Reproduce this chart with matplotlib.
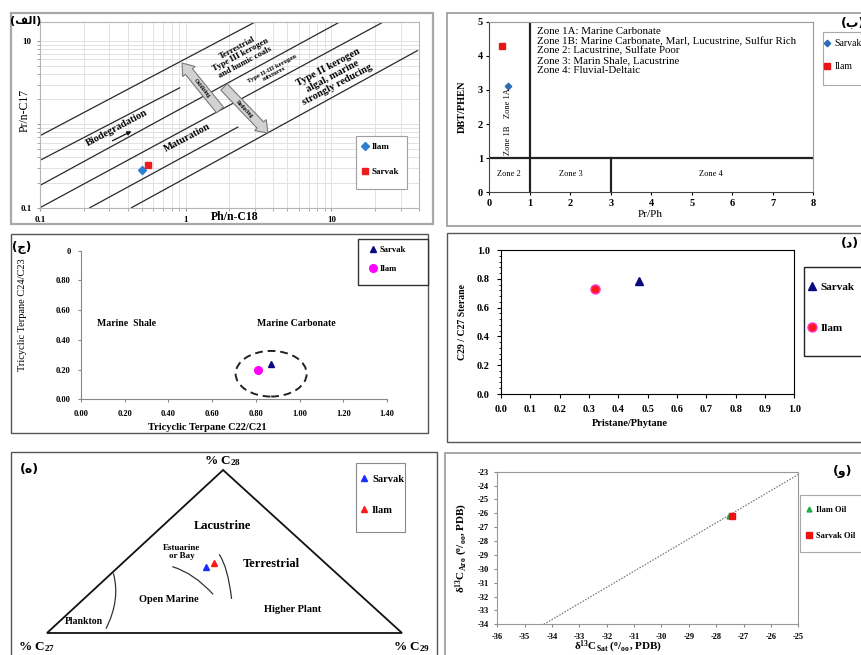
import matplotlib
matplotlib.use('Agg')
import matplotlib.pyplot as plt
from matplotlib.patches import Rectangle, Ellipse, FancyArrow, PathPatch, Polygon
from matplotlib.path import Path
from matplotlib.ticker import NullFormatter, MultipleLocator
import numpy as np

plt.rcParams['font.family'] = ['Liberation Serif', 'DejaVu Sans']
plt.rcParams['mathtext.fontset'] = 'custom'
plt.rcParams['mathtext.rm'] = 'Liberation Serif:bold'
plt.rcParams['mathtext.it'] = 'Liberation Serif:bold'
plt.rcParams['mathtext.bf'] = 'Liberation Serif:bold'
plt.rcParams['axes.unicode_minus'] = False

# ---------------- data ----------------
# (A) Pr/n-C17 vs Ph/n-C18
a_names = ['Ilam', 'Sarvak']
a_ph_nc18 = [0.50, 0.55]
a_pr_nc17 = [0.285, 0.327]
a_bound_x = [[0.1, 2.97], [0.1, 0.91], [0.1, 11.3], [0.1, 22.5], [0.22, 2.28], [0.425, 39.0]]
a_bound_y = [[0.73, 16.7], [0.37, 2.74], [0.185, 16.7], [0.1, 16.7], [0.1, 0.925], [0.1, 7.65]]

# (B) DBT/PHEN vs Pr/Ph
b_names = ['Sarvak', 'Ilam']
b_pr_ph = [0.47, 0.31]
b_dbt_phen = [3.12, 4.30]
b_zone_x = [[1, 1], [0, 8], [3, 3]]
b_zone_y = [[0, 5], [1, 1], [0, 1]]
b_notes = ['Zone 1A: Marine Carbonate',
           'Zone 1B: Marine Carbonate, Marl, Lucustrine, Sulfur Rich',
           'Zone 2: Lacustrine, Sulfate Poor',
           'Zone 3: Marin Shale, Lacustrine',
           'Zone 4: Fluvial-Deltaic']

# (C) Tricyclic terpanes
c_names = ['Sarvak', 'Ilam']
c_c22_c21 = [0.868, 0.808]
c_c24_c23 = [0.238, 0.197]
c_xticks = [0.0, 0.2, 0.4, 0.6, 0.8, 1.0, 1.2, 1.4]
c_xlabels = ['0.00', '0.20', '0.40', '0.60', '0.80', '1.00', '1.20', '1.40']
c_yticks = [0.0, 0.2, 0.4, 0.6, 0.8, 1.0]
c_ylabels = ['0.00', '0.20', '0.40', '0.60', '0.80', '0']

# (D) C29/C27 sterane vs Pr/Ph
d_names = ['Sarvak', 'Ilam']
d_pr_ph = [0.472, 0.321]
d_c29_c27 = [0.785, 0.729]

# (E) ternary steranes (%)
e_names = ['Sarvak', 'Ilam']
e_c27 = [34.6, 31.3]
e_c28 = [40.7, 43.1]
e_c29 = [24.7, 25.6]

# (F) carbon isotopes
f_names = ['Ilam Oil', 'Sarvak Oil']
f_sat = [-27.55, -27.42]
f_aro = [-26.20, -26.17]
f_ref_x = [-34.3, -25.0]
f_ref_y = [-34.0, -23.2]

# ---------------- layout helpers ----------------
W, H = 862, 655
fig = plt.figure(figsize=(W / 100, H / 100), dpi=100)


def px_axes(l, t, r, b, **kw):
    return fig.add_axes([l / W, 1 - b / H, (r - l) / W, (b - t) / H], **kw)


bg = fig.add_axes([0, 0, 1, 1], zorder=-10, label='bg')
bg.set_xlim(0, W); bg.set_ylim(H, 0); bg.axis('off')

SERIF = ['Liberation Serif', 'DejaVu Sans']
AR = ['DejaVu Sans']


def style_ticks(ax, fs, weight='bold'):
    for lab in ax.get_xticklabels() + ax.get_yticklabels():
        lab.set_fontsize(fs)
        lab.set_fontweight(weight)
        lab.set_family(SERIF)


def legend_box(ax, l, t, r, b, ec, lw=0.8):
    rect = Rectangle((l / W, 1 - b / H), (r - l) / W, (b - t) / H, transform=fig.transFigure,
                     fc='white', ec=ec, lw=lw, zorder=4.5, clip_on=False)
    ax.add_patch(rect)


def place_legend(ax, left, first_y, fs, gap, weight='bold'):
    h, l = ax.get_legend_handles_labels()
    fs_px = fs * 100 / 72
    top = first_y - 0.62 * fs_px
    ax.legend(h, l, loc='upper left', bbox_to_anchor=(left / W, 1 - top / H),
              bbox_transform=fig.transFigure, frameon=False, borderpad=0, borderaxespad=0,
              handlelength=0.8, handletextpad=0.35, numpoints=1,
              labelspacing=(gap - 1.2 * fs_px) / fs_px,
              prop={'family': SERIF, 'weight': weight, 'size': fs})


# panel frames
for (l, t, r, b, c, lw) in [(11, 13, 433, 224, '#a8a8a8', 1.6), (447, 13, 866, 226, '#9a9a9a', 1.2),
                            (11, 234, 428, 433, '#555555', 1.0), (447, 233, 866, 442, '#555555', 1.0),
                            (11, 452, 437, 660, '#555555', 1.0), (445, 453, 866, 660, '#9a9a9a', 1.2)]:
    bg.add_patch(Rectangle((l, t), r - l, b - t, fc='white', ec=c, lw=lw))

# ---------------- panel A ----------------
axA = px_axes(40, 21.7, 419, 207.7)
axA.set_xscale('log'); axA.set_yscale('log')
axA.set_xlim(0.1, 40); axA.set_ylim(0.1, 17)
axA.grid(True, which='both', color='#e2e2e2', lw=0.7)
axA.set_axisbelow(True)
for xs, ys in zip(a_bound_x, a_bound_y):
    axA.plot(xs, ys, color='#2a2a2a', lw=0.9)
axA.plot([a_ph_nc18[0]], [a_pr_nc17[0]], 'D', color='#2d7fd0', ms=4, label=a_names[0], ls='none')
axA.plot([a_ph_nc18[1]], [a_pr_nc17[1]], 's', color='#ee1c1c', ms=4.2, label=a_names[1], ls='none')
axA.set_xticks([0.1, 1, 10]); axA.set_xticklabels(['0.1', '1', '10'])
axA.set_yticks([0.1, 1, 10]); axA.set_yticklabels(['0.1', '', '10'])
axA.xaxis.set_minor_formatter(NullFormatter()); axA.yaxis.set_minor_formatter(NullFormatter())
axA.tick_params(which='both', length=2, color='#999999', pad=4)
for s in axA.spines.values():
    s.set_color('#b5b5b5')
style_ticks(axA, 6.5)
legend_box(axA, 356, 136, 407, 189, '#a0a0a0')
place_legend(axA, 361, 148, 6.5, 28)
fig.text(25 / W, 1 - 110 / H, 'Pr/n-C17', rotation=90, ha='center', va='center', fontsize=8.5,
         family=SERIF)
fig.text(235 / W, 1 - 216.5 / H, 'Ph/n-C18', ha='center', va='center', fontsize=8.5,
         weight='bold', family=SERIF)

# ---------------- panel B ----------------
axB = px_axes(489.3, 21.7, 813.3, 192.3)
axB.set_xlim(0, 8); axB.set_ylim(0, 5)
for xs, ys in zip(b_zone_x, b_zone_y):
    axB.plot(xs, ys, color='#222222', lw=1.6)
axB.plot([b_pr_ph[0]], [b_dbt_phen[0]], 'D', color='#2e6db4', ms=3.3, label=b_names[0], ls='none')
axB.plot([b_pr_ph[1]], [b_dbt_phen[1]], 's', color='#e81515', ms=5, label=b_names[1], ls='none')
axB.set_xticks(range(0, 9)); axB.set_yticks(range(0, 6))
axB.tick_params(length=2, pad=2.5)
for s in axB.spines.values():
    s.set_color('#9a9a9a')
axB.spines['left'].set_color('#444444'); axB.spines['bottom'].set_color('#444444')
style_ticks(axB, 7.5)
for i, note in enumerate(b_notes):
    axB.text(1.18, 4.7 - i * 0.28, note, fontsize=7.8, va='center', ha='left', family=SERIF)
axB.text(0.47, 0.54, 'Zone 2', fontsize=6, ha='center', va='center')
axB.text(2.02, 0.54, 'Zone 3', fontsize=6, ha='center', va='center')
axB.text(5.47, 0.54, 'Zone 4', fontsize=6, ha='center', va='center')
axB.text(0.45, 1.53, 'Zone 1B', fontsize=6, rotation=90, ha='center', va='center')
axB.text(0.45, 2.62, 'Zone 1A', fontsize=6, rotation=90, ha='center', va='center')
legend_box(axB, 822.7, 32, 875, 85, '#a8a8a8')
place_legend(axB, 823.5, 45, 7, 26, weight='normal')
fig.text(650 / W, 1 - 214.5 / H, 'Pr/Ph', ha='center', va='center', fontsize=8, family=SERIF)
fig.text(462.7 / W, 1 - 106.7 / H, 'DBT/PHEN', rotation=90, ha='center', va='center', fontsize=7.5,
         weight='bold', family=SERIF)
fig.text(841 / W, 1 - 23 / H, '(ب)', ha='left', va='center', fontsize=9, weight='bold', family=AR)

# ---------------- panel C ----------------
axC = px_axes(81, 250.7, 387, 399.3)
axC.set_xlim(0, 1.4); axC.set_ylim(0, 1.0)
axC.plot([c_c22_c21[0]], [c_c24_c23[0]], '^', color='#0a0a80', ms=4, label=c_names[0], ls='none')
axC.plot([c_c22_c21[1]], [c_c24_c23[1]], 'o', color='#ff00ff', ms=5.5, label=c_names[1], ls='none')
axC.add_patch(Ellipse((0.870, 0.172), 0.325, 0.307, fill=False, ls=(0, (4, 2.5)), lw=1.4, ec='#222222'))
axC.set_xticks(c_xticks); axC.set_xticklabels(c_xlabels)
axC.set_yticks(c_yticks); axC.set_yticklabels(c_ylabels)
axC.spines['top'].set_visible(False); axC.spines['right'].set_visible(False)
axC.spines['left'].set_color('#888888'); axC.spines['bottom'].set_color('#888888')
axC.tick_params(length=2.5, color='#888888', pad=5)
style_ticks(axC, 6)
axC.text(0.206, 0.511, 'Marine  Shale', fontsize=7, weight='bold', ha='center', va='center')
axC.text(0.987, 0.511, 'Marine Carbonate', fontsize=7, weight='bold', ha='center', va='center')
legend_box(axC, 358, 239, 428, 285, '#333333', lw=1.0)
place_legend(axC, 370, 251, 6.2, 22)
fig.text(207 / W, 1 - 428 / H, 'Tricyclic Terpane C22/C21', ha='center', va='center', fontsize=7.5,
         weight='bold', family=SERIF)
fig.text(23 / W, 1 - 315 / H, 'Tricyclic Terpane C24/C23', rotation=90, ha='center', va='center',
         fontsize=7.5, family=SERIF)
fig.text(22 / W, 1 - 247 / H, '(ج)', ha='center', va='center', fontsize=8.5, weight='bold', family=AR)

# ---------------- panel D ----------------
axD = px_axes(501, 250, 794.3, 394)
axD.set_xlim(0, 1); axD.set_ylim(0, 1)
axD.plot([d_pr_ph[0]], [d_c29_c27[0]], '^', color='#0a0a80', ms=6, label=d_names[0], ls='none')
axD.plot([d_pr_ph[1]], [d_c29_c27[1]], 'o', color='#ff1a1a', mec='#ff33cc', mew=1, ms=6.5,
         label=d_names[1], ls='none')
axD.set_xticks(np.arange(0, 1.01, 0.1)); axD.set_xticklabels(['%.1f' % v for v in np.arange(0, 1.01, 0.1)])
axD.set_yticks(np.arange(0, 1.01, 0.2)); axD.set_yticklabels(['%.1f' % v for v in np.arange(0, 1.01, 0.2)])
axD.yaxis.set_minor_locator(MultipleLocator(0.04))
axD.tick_params(which='major', length=3, pad=5)
axD.tick_params(which='minor', length=1.8)
style_ticks(axD, 7.5)
legend_box(axD, 803.7, 266.7, 875, 356, '#222222', lw=1.0)
place_legend(axD, 808, 289, 8, 45)
fig.text(630 / W, 1 - 424 / H, 'Pristane/Phytane', ha='center', va='center', fontsize=7.5,
         weight='bold', family=SERIF)
fig.text(462.7 / W, 1 - 321.7 / H, 'C29 / C27 Sterane', rotation=90, ha='center', va='center',
         fontsize=7, weight='bold', family=SERIF)
fig.text(850 / W, 1 - 244 / H, '(د)', ha='center', va='center', fontsize=9, weight='bold', family=AR)

# ---------------- panel E (ternary) ----------------
axE = px_axes(47, 470, 402, 633)
axE.set_xlim(0, 1); axE.set_ylim(0, 1); axE.axis('off')
axE.add_patch(Polygon([(0, 0), (1, 0), (0.496, 1)], closed=True, fill=False, ec='#111111', lw=1.3,
                      clip_on=False))


def tern_xy(c27, c28, c29):
    tot = np.asarray(c27) + np.asarray(c28) + np.asarray(c29)
    return (np.asarray(c29) + 0.496 * np.asarray(c28)) / tot, np.asarray(c28) / tot


ex, ey = tern_xy(e_c27, e_c28, e_c29)
axE.plot([ex[0]], [ey[0]], '^', color='#1a2cff', ms=4, label=e_names[0], ls='none', clip_on=False)
axE.plot([ex[1]], [ey[1]], '^', color='#ff1a1a', ms=4, label=e_names[1], ls='none', clip_on=False)
for p0, c, p2 in [((0.187, 0.366), (0.2075, 0.204), (0.166, 0.026)),
                  ((0.353, 0.407), (0.4135, 0.368), (0.468, 0.237)),
                  ((0.485, 0.483), (0.5095, 0.406), (0.520, 0.209))]:
    axE.add_patch(PathPatch(Path([p0, c, p2], [Path.MOVETO, Path.CURVE3, Path.CURVE3]),
                            fill=False, ec='#333333', lw=0.9))
legend_box(axE, 356, 463, 405, 532, '#8a8a8a')
place_legend(axE, 360, 480.7, 7.5, 34.3)
fig.text(223 / W, 1 - 461 / H, r'% C$_{28}$', ha='center', va='center', fontsize=9.5, weight='bold', family=SERIF)
fig.text(37 / W, 1 - 647 / H, r'% C$_{27}$', ha='center', va='center', fontsize=9.5, weight='bold', family=SERIF)
fig.text(412 / W, 1 - 647 / H, r'% C$_{29}$', ha='center', va='center', fontsize=9.5, weight='bold', family=SERIF)
for (x, y, s, fs) in [(222, 526, 'Lacustrine', 9), (182, 552, 'Estuarine\nor Bay', 6.5),
                      (271, 564, 'Terrestrial', 9), (169, 600, 'Open Marine', 7.5),
                      (293, 609, 'Higher Plant', 7.5), (84, 622, 'Plankton', 7)]:
    fig.text(x / W, 1 - y / H, s, ha='center', va='center', fontsize=fs, weight='bold', family=SERIF,
             linespacing=0.85)
fig.text(29 / W, 1 - 469 / H, '(ه)', ha='center', va='center', fontsize=9, weight='bold', family=AR)

# ---------------- panel F ----------------
axF = px_axes(497.3, 471.7, 798.3, 624.3)
axF.set_xlim(-36, -25); axF.set_ylim(-34, -23)
axF.plot(f_ref_x, f_ref_y, ls=(0, (1.2, 1.2)), color='#777777', lw=0.9)
axF.plot([f_sat[0]], [f_aro[0]], '^', color='#22aa44', ms=3.5, label=f_names[0], ls='none')
axF.plot([f_sat[1]], [f_aro[1]], 's', color='#ee1111', ms=4.5, label=f_names[1], ls='none')
axF.set_xticks(range(-36, -24)); axF.set_yticks(range(-34, -22))
axF.tick_params(length=2, pad=4, color='#888888')
for s in axF.spines.values():
    s.set_color('#999999')
style_ticks(axF, 6)
legend_box(axF, 800, 495, 875, 552, '#a8a8a8')
place_legend(axF, 806, 511, 6, 28)
fig.text(618 / W, 1 - 647 / H, r'δ$^{13}$C$_{Sat}$ ($^{o}$/$_{oo}$, PDB)', ha='center', va='center',
         fontsize=8, weight='bold', family=SERIF)
fig.text(461.7 / W, 1 - 548 / H, r'δ$^{13}$C$_{Aro}$ ($^{o}$/$_{oo}$, PDB)', rotation=90, ha='center',
         va='center', fontsize=8, weight='bold', family=SERIF)
fig.text(843 / W, 1 - 471 / H, '(و)', ha='center', va='center', fontsize=9, weight='bold', family=AR)

# ---------------- overlay annotations for panel A ----------------
fg = fig.add_axes([0, 0, 1, 1], zorder=10, label='fg')
fg.set_xlim(0, W); fg.set_ylim(H, 0); fg.axis('off'); fg.patch.set_alpha(0)
fg.add_patch(FancyArrow(220, 110, -38, -47, width=9, head_width=16, head_length=11,
                        length_includes_head=True, fc='#d2d2d2', ec='#7a7a7a', lw=0.8))
fg.add_patch(FancyArrow(224, 87, 44, 46, width=9, head_width=16, head_length=11,
                        length_includes_head=True, fc='#d2d2d2', ec='#7a7a7a', lw=0.8))
fg.text(202, 88, 'Oxidizing', rotation=-51, fontsize=4, ha='center', va='center', rotation_mode='anchor',
        weight='bold', family=SERIF)
fg.text(245, 109, 'Reducing', rotation=-46, fontsize=4, ha='center', va='center', rotation_mode='anchor',
        weight='bold', family=SERIF)
fg.annotate('', xy=(134, 130), xytext=(110, 142),
            arrowprops=dict(arrowstyle='-|>', color='#111111', lw=0.9, mutation_scale=6))
for (x, y, s, fs) in [(241, 55, 'Terrestrial\nType III kerogen\nand humic coals', 6.2),
                      (273, 71, 'Type II-III kerogen\nmixtures', 4.8),
                      (333, 76, 'Type II kerogen\nalgal, marine\nstrongly reducing', 7.5),
                      (117, 128, 'Biodegradation', 7.5),
                      (187, 138, 'Maturation', 7.5)]:
    fg.text(x, y, s, rotation=28, rotation_mode='anchor', ha='center', va='center', fontsize=fs,
            weight='bold', family=SERIF, linespacing=1.05)
fg.text(26, 21, '(' + '\uFED2\uFEDF\uFE8D' + ')', ha='center', va='center', fontsize=8, weight='bold',
        family=AR)

fig.savefig('out.png', dpi=100)
